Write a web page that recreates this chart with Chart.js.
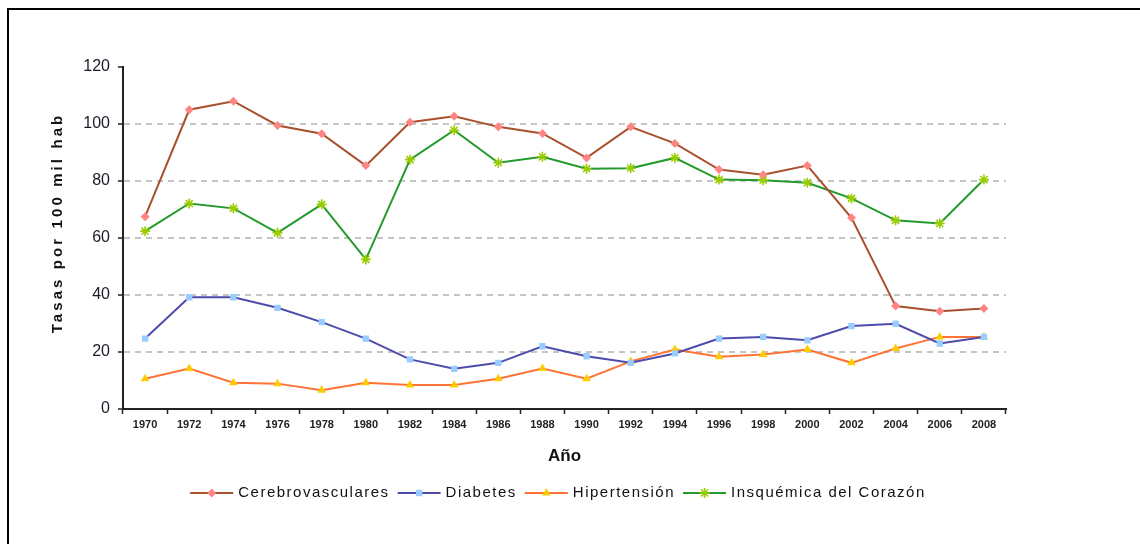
<!DOCTYPE html>
<html>
<head>
<meta charset="utf-8">
<title>Tasas por 100 mil hab</title>
<script src="https://cdn.jsdelivr.net/npm/chart.js@4/dist/chart.umd.min.js"></script>
<style>
  body { margin: 0; background: #fff; }
  #frame { position: absolute; left: 7px; top: 8px; width: 1133px; height: 536px;
           border-top: 2px solid #000; border-left: 2px solid #000; }
  #wrap { position: absolute; left: 0; top: 0; width: 1140px; height: 544px; }
</style>
</head>
<body>
<div id="frame"></div>
<div id="wrap"><canvas id="chart" width="1140" height="544"></canvas></div>
<script>
// años (cada dos)
var years = ['1970', '1972', '1974', '1976', '1978', '1980', '1982', '1984', '1986', '1988',
             '1990', '1992', '1994', '1996', '1998', '2000', '2002', '2004', '2006', '2008'];

var cerebrovasculares = [67.5, 105, 108, 99.5, 96.6, 85.4, 100.6, 102.7, 99, 96.7,
                         88.1, 99, 93.2, 84, 82.2, 85.4, 67.1, 36.1, 34.3, 35.3];
var diabetes = [24.7, 39.2, 39.2, 35.5, 30.5, 24.7, 17.4, 14.1, 16.2, 22,
                18.5, 16.2, 19.5, 24.7, 25.3, 24.1, 29.1, 29.9, 23, 25.3];
var hipertension = [10.6, 14.2, 9.2, 8.9, 6.6, 9.2, 8.4, 8.4, 10.6, 14.2,
                    10.6, 16.7, 20.9, 18.3, 19.1, 20.9, 16.2, 21.2, 25.3, 25.3];
var insquemica = [62.4, 72.1, 70.4, 61.8, 71.8, 52.5, 87.5, 97.8, 86.4, 88.5,
                  84.3, 84.5, 88.1, 80.5, 80.3, 79.4, 73.9, 66.2, 65.1, 80.5];

var yTicks = [0, 20, 40, 60, 80, 100, 120];
var yTitle = 'Tasas por 100 mil hab';

var FONT = '"Liberation Sans", Arial, sans-serif';

function serie(label, data, line, mark, style, radius) {
  var star = style === 'star';
  return {
    label: label,
    data: data,
    borderColor: line,
    borderWidth: 2,
    tension: 0,
    pointStyle: style,
    pointRadius: radius,
    pointHoverRadius: radius,
    pointBackgroundColor: mark,
    pointBorderColor: mark,
    pointBorderWidth: star ? 1.6 : 0
  };
}

// título del eje Y (espaciado entre letras) y leyenda con trazo + marcador
var extras = {
  id: 'extras',
  afterDraw: function (chart) {
    var ctx = chart.ctx;

    ctx.save();
    ctx.font = 'bold 15px ' + FONT;
    ctx.letterSpacing = '3.1px';
    ctx.fillStyle = '#111';
    ctx.textAlign = 'center';
    ctx.textBaseline = 'middle';
    ctx.translate(58, 223);
    ctx.rotate(-Math.PI / 2);
    ctx.fillText(yTitle, 0, 0);
    ctx.restore();

    var sets = chart.data.datasets;
    var sample = 43, gapText = 5, gapItem = 8, y = 493;
    ctx.save();
    ctx.font = '15px ' + FONT;
    ctx.letterSpacing = '1.5px';
    var total = 0;
    sets.forEach(function (ds, i) {
      total += sample + gapText + ctx.measureText(ds.label).width + (i ? gapItem : 0);
    });
    var x = 558 - total / 2;
    sets.forEach(function (ds) {
      ctx.strokeStyle = ds.borderColor;
      ctx.lineWidth = 2;
      ctx.beginPath();
      ctx.moveTo(x, y);
      ctx.lineTo(x + sample, y);
      ctx.stroke();
      ctx.fillStyle = ds.pointBackgroundColor;
      ctx.strokeStyle = ds.pointBorderColor;
      ctx.lineWidth = ds.pointBorderWidth;
      Chart.helpers.drawPoint(ctx, {
        pointStyle: ds.pointStyle, radius: ds.pointRadius,
        borderWidth: ds.pointBorderWidth, rotation: 0
      }, x + sample / 2, y);
      ctx.fillStyle = '#111';
      ctx.textBaseline = 'middle';
      ctx.fillText(ds.label, x + sample + gapText, y);
      x += sample + gapText + ctx.measureText(ds.label).width + gapItem;
    });
    ctx.restore();
  }
};

new Chart(document.getElementById('chart'), {
  type: 'line',
  data: {
    labels: years,
    datasets: [
      serie('Cerebrovasculares', cerebrovasculares, '#A9502C', '#FF8585', 'rectRot', 4.5),
      serie('Diabetes', diabetes, '#4E4CAB', '#99CCFF', 'rect', 4.5),
      serie('Hipertensión', hipertension, '#FF7436', '#FFCC00', 'triangle', 5),
      serie('Insquémica del Corazón', insquemica, '#239A2B', '#99CC00', 'star', 5)
    ]
  },
  options: {
    responsive: false,
    animation: false,
    layout: { padding: { top: 67, right: 134, left: 0, bottom: 0 } },
    plugins: { legend: { display: false }, tooltip: { enabled: false } },
    scales: {
      x: {
        offset: true,
        grid: { offset: true, drawOnChartArea: false, tickLength: 5, tickColor: '#222', tickWidth: 1.5 },
        border: { color: '#222', width: 2 },
        ticks: { font: { family: FONT, size: 11, weight: 'bold' }, color: '#222', padding: 4,
                 maxRotation: 0, autoSkip: false },
        title: { display: true, text: 'Año', color: '#111',
                 font: { family: FONT, size: 17, weight: 'bold' }, padding: { top: 0, bottom: 77 } },
        afterFit: function (s) { s.height = 135; }
      },
      y: {
        min: 0,
        max: 120,
        afterBuildTicks: function (s) { s.ticks = yTicks.map(function (v) { return { value: v }; }); },
        grid: {
          color: function (c) {
            var v = c.tick && c.tick.value;
            return (v === 0 || v === 120) ? 'rgba(0,0,0,0)' : '#C4C4C4';
          },
          lineWidth: 2,
          tickLength: 5, tickColor: '#222', tickWidth: 1.5
        },
        border: { color: '#222', width: 2, dash: [6, 5] },
        ticks: { font: { family: FONT, size: 16 }, color: '#1a1a2a', padding: 8 },
        title: { display: false },
        afterFit: function (s) { s.width = 123; }
      }
    }
  },
  plugins: [extras]
});
</script>
</body>
</html>
